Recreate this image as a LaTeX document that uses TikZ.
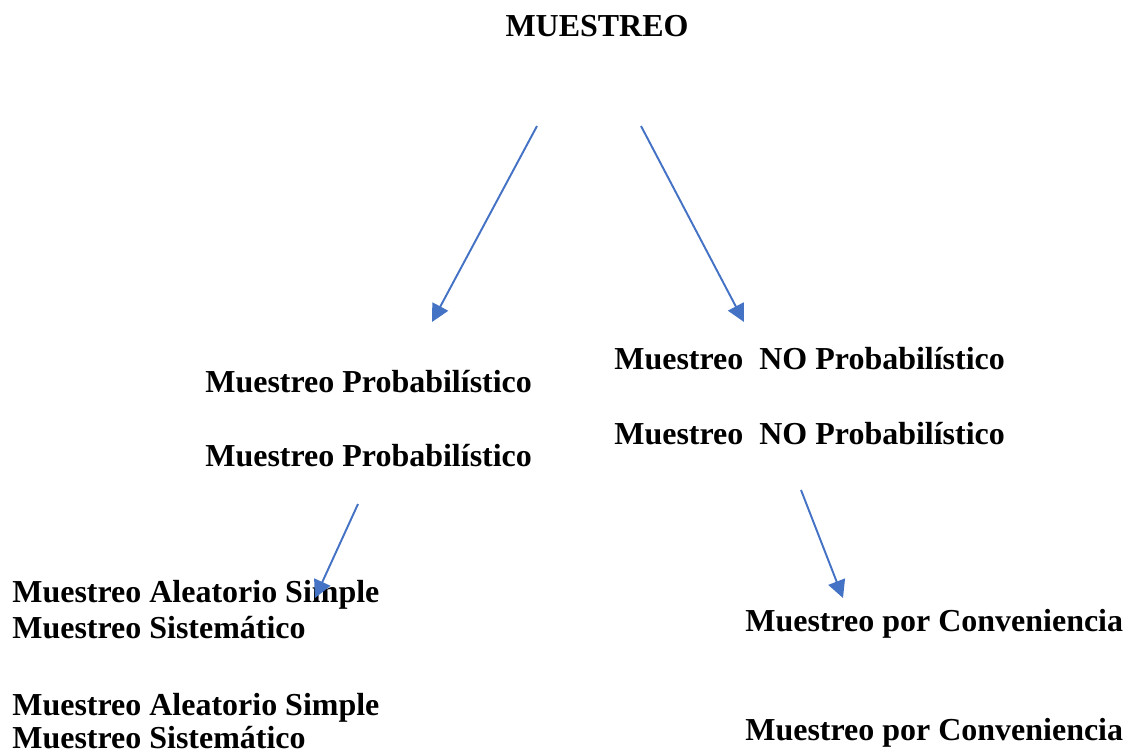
\documentclass[tikz,border=0pt]{standalone}
\usepackage{fontspec}
\setmainfont{Liberation Serif}
\usetikzlibrary{arrows.meta}
\definecolor{arrowblue}{HTML}{4472C4}

\begin{document}
\begin{tikzpicture}
  [x=0.02cm,y=-0.02cm,
   every node/.style={anchor=base west,inner sep=0pt,font=\bfseries\fontsize{18.2}{21}\selectfont},
   link/.style={draw=arrowblue,line width=1.1pt,-{Triangle[length=10pt,width=10pt]}}]
  \useasboundingbox (0,0) rectangle (1131,754);

  \node[anchor=base] (top) at (597,36) {MUESTREO};
  \node (p1) at (205,392) {Muestreo Probabilístico};
  \node (p2) at (205,466) {Muestreo Probabilístico};
  \node (n1) at (614,369) {Muestreo\ \ NO Probabilístico};
  \node (n2) at (614,444) {Muestreo\ \ NO Probabilístico};
  \node (a1) at (12,602) {Muestreo Aleatorio Simple};
  \node (s1) at (12,638) {Muestreo Sistemático};
  \node (a2) at (12,715) {Muestreo Aleatorio Simple};
  \node (s2) at (12,748) {Muestreo Sistemático};
  \node (c1) at (745,631) {Muestreo por Conveniencia};
  \node (c2) at (745,740) {Muestreo por Conveniencia};

  \coordinate (l1) at (537,126);
  \coordinate (l2) at (432,322);
  \coordinate (r1) at (641,126);
  \coordinate (r2) at (744,322);
  \coordinate (d1) at (358,504);
  \coordinate (d2) at (315,598);
  \coordinate (e1) at (801,490);
  \coordinate (e2) at (843,598);
  \foreach \from/\to in {l1/l2,r1/r2,d1/d2,e1/e2}
    \draw[link] (\from) -- (\to);
\end{tikzpicture}
\end{document}
